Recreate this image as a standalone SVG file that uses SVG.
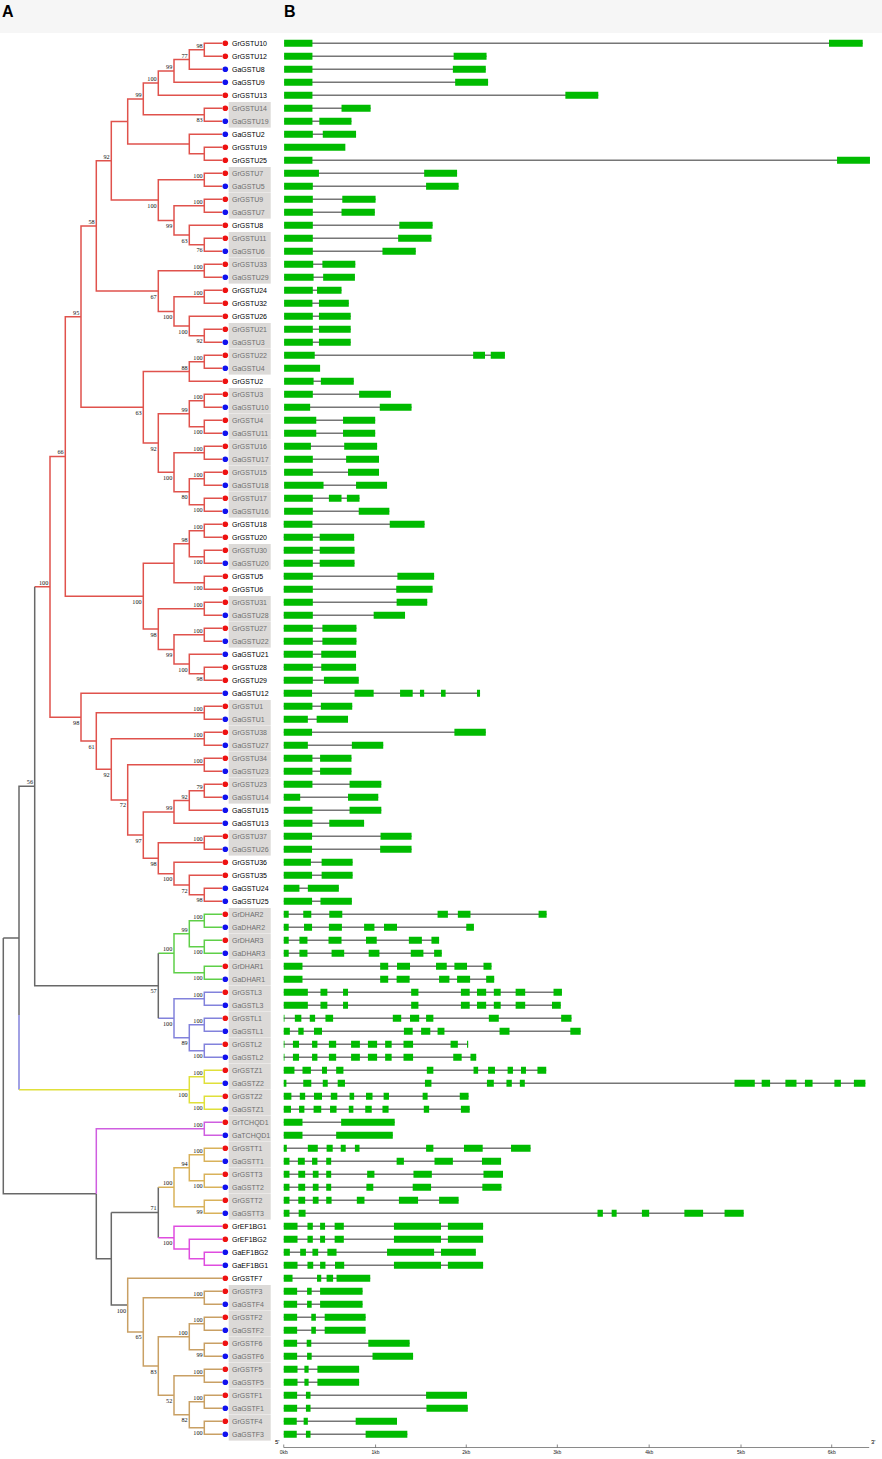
<svg xmlns="http://www.w3.org/2000/svg" width="882" height="1459" viewBox="0 0 882 1459">
<style>
.c path{fill:none;stroke-width:1.5}
.r{stroke:#e0524c}.gn{stroke:#5fcf48}.lv{stroke:#8282dc}.yl{stroke:#e0e03a}.pu{stroke:#cf5ee0}.gd{stroke:#d9b25a}.mg{stroke:#df4ddf}.tn{stroke:#c9a064}.gr{stroke:#686868}
.t{font-family:"Liberation Sans",Arial,sans-serif;font-size:7px;fill:#000}
.g{fill:#6e6e6e}
.rd{fill:#ee1111}.bl{fill:#1111ee}
.bs{font-family:"Liberation Serif","Times New Roman",serif;font-size:6.2px;text-anchor:end;fill:#111}
.bx{fill:#dcdad8}
.i{fill:none;stroke:#767676;stroke-width:1.5}
.e{fill:none;stroke:#00bb00;stroke-width:7}
.ax{fill:none;stroke:#555;stroke-width:1}
.kb{font-family:"Liberation Sans",Arial,sans-serif;font-size:5px;text-anchor:middle;fill:#222}
</style>
<rect x="0" y="0" width="882" height="33" fill="#f6f6f6"/>
<text x="2" y="17" font-family="Liberation Sans,Arial,sans-serif" font-size="16" font-weight="bold">A</text>
<text x="284" y="17" font-family="Liberation Sans,Arial,sans-serif" font-size="16" font-weight="bold">B</text>

<g id="boxes">
<rect class="bx" x="228.7" y="102" width="42" height="25.6"/>
<rect class="bx" x="228.7" y="167" width="42" height="25.6"/>
<rect class="bx" x="228.7" y="193" width="42" height="25.6"/>
<rect class="bx" x="228.7" y="232" width="42" height="25.6"/>
<rect class="bx" x="228.7" y="258" width="42" height="25.6"/>
<rect class="bx" x="228.7" y="323" width="42" height="25.6"/>
<rect class="bx" x="228.7" y="349" width="42" height="25.6"/>
<rect class="bx" x="228.7" y="388" width="42" height="25.6"/>
<rect class="bx" x="228.7" y="414" width="42" height="25.6"/>
<rect class="bx" x="228.7" y="440" width="42" height="25.6"/>
<rect class="bx" x="228.7" y="466" width="42" height="25.6"/>
<rect class="bx" x="228.7" y="492" width="42" height="25.6"/>
<rect class="bx" x="228.7" y="544" width="42" height="25.6"/>
<rect class="bx" x="228.7" y="596" width="42" height="25.6"/>
<rect class="bx" x="228.7" y="622" width="42" height="25.6"/>
<rect class="bx" x="228.7" y="700" width="42" height="25.6"/>
<rect class="bx" x="228.7" y="726" width="42" height="25.6"/>
<rect class="bx" x="228.7" y="752" width="42" height="25.6"/>
<rect class="bx" x="228.7" y="778" width="42" height="25.6"/>
<rect class="bx" x="228.7" y="830" width="42" height="25.6"/>
<rect class="bx" x="228.7" y="908" width="42" height="25.6"/>
<rect class="bx" x="228.7" y="934" width="42" height="25.6"/>
<rect class="bx" x="228.7" y="960" width="42" height="25.6"/>
<rect class="bx" x="228.7" y="986" width="42" height="25.6"/>
<rect class="bx" x="228.7" y="1012" width="42" height="25.6"/>
<rect class="bx" x="228.7" y="1038" width="42" height="25.6"/>
<rect class="bx" x="228.7" y="1064" width="42" height="25.6"/>
<rect class="bx" x="228.7" y="1090" width="42" height="25.6"/>
<rect class="bx" x="228.7" y="1116" width="42" height="25.6"/>
<rect class="bx" x="228.7" y="1142" width="42" height="25.6"/>
<rect class="bx" x="228.7" y="1168" width="42" height="25.6"/>
<rect class="bx" x="228.7" y="1194" width="42" height="25.6"/>
<rect class="bx" x="228.7" y="1285" width="42" height="25.6"/>
<rect class="bx" x="228.7" y="1311" width="42" height="25.6"/>
<rect class="bx" x="228.7" y="1337" width="42" height="25.6"/>
<rect class="bx" x="228.7" y="1363" width="42" height="25.6"/>
<rect class="bx" x="228.7" y="1389" width="42" height="25.6"/>
<rect class="bx" x="228.7" y="1415" width="42" height="25.6"/>
</g>

<g id="connectors" class="c">
<path class="r" d="M222 43.3H204.3V56.3H222M204.3 49.8H189.3V69.3H222M189.3 59.55H174V82.3H222M174 70.93H158.3V95.3H222M222 108.3H204.3V121.3H222M158.3 83.11H143.3V114.8H204.3M222 147.3H204.3V160.3H222M222 134.3H189.3V153.8H204.3M143.3 98.96H127.7V144.05H189.3M222 173.3H204.3V186.3H222M222 199.3H204.3V212.3H222M222 238.3H204.3V251.3H222M222 225.3H189.3V244.8H204.3M204.3 205.8H174V235.05H189.3M204.3 179.8H158.3V220.43H174M127.7 121.5H111.3V200.11H158.3M222 264.3H204.3V277.3H222M222 290.3H204.3V303.3H222M222 329.3H204.3V342.3H222M222 316.3H189.3V335.8H204.3M204.3 296.8H174V326.05H189.3M204.3 270.8H158.3V311.43H174M111.3 160.81H96.3V291.11H158.3M222 355.3H204.3V368.3H222M204.3 361.8H189.3V381.3H222M222 394.3H204.3V407.3H222M222 420.3H204.3V433.3H222M204.3 400.8H189.3V426.8H204.3M222 446.3H204.3V459.3H222M222 472.3H204.3V485.3H222M222 498.3H204.3V511.3H222M204.3 478.8H189.3V504.8H204.3M204.3 452.8H174V491.8H189.3M189.3 413.8H158.3V472.3H174M189.3 371.55H143.3V443.05H158.3M96.3 225.96H81V407.3H143.3M222 524.3H204.3V537.3H222M222 550.3H204.3V563.3H222M204.3 530.8H189.3V556.8H204.3M222 576.3H204.3V589.3H222M189.3 543.8H174V582.8H204.3M222 602.3H204.3V615.3H222M222 628.3H204.3V641.3H222M222 667.3H204.3V680.3H222M222 654.3H189.3V673.8H204.3M204.3 634.8H174V664.05H189.3M204.3 608.8H158.3V649.43H174M174 563.3H143.3V629.11H158.3M81 316.63H65.3V596.2H143.3M222 706.3H204.3V719.3H222M222 732.3H204.3V745.3H222M222 758.3H204.3V771.3H222M222 784.3H204.3V797.3H222M204.3 790.8H189.3V810.3H222M189.3 800.55H174V823.3H222M222 836.3H204.3V849.3H222M222 888.3H204.3V901.3H222M222 875.3H189.3V894.8H204.3M222 862.3H174V885.05H189.3M204.3 842.8H158.3V873.68H174M174 811.93H143.3V858.24H158.3M204.3 764.8H127.7V835.08H143.3M204.3 738.8H111.3V799.94H127.7M204.3 712.8H96.3V769.37H111.3M222 693.3H81V741.09H96.3M65.3 456.4H50V717.19H81M34.7 586.83H50"/>
<path class="gn" d="M222 914.3H204.3V927.3H222M222 940.3H204.3V953.3H222M204.3 920.8H189.3V946.8H204.3M222 966.3H204.3V979.3H222M189.3 933.8H174V972.8H204.3M158.3 953.3H174"/>
<path class="lv" d="M222 992.3H204.3V1005.3H222M222 1018.3H204.3V1031.3H222M222 1044.3H204.3V1057.3H222M204.3 1024.8H189.3V1050.8H204.3M204.3 998.8H174V1037.8H189.3M158.3 1018.3H174M19 1015V1089.8"/>
<path class="gr" d="M158.3 953.3V1018.3M34.7 586.83V985.8H158.3M34.7 786.32H19V1015M3.3 938.1H19M3.3 938.1V1193.8H96.3M96.3 1193.8V1258.8H111.3M111.3 1212.49H158.3M158.3 1187.3V1237.68M111.3 1212.49V1305.11H127.7"/>
<path class="yl" d="M222 1070.3H204.3V1083.3H222M222 1096.3H204.3V1109.3H222M204.3 1076.8H189.3V1102.8H204.3M19 1089.8H189.3"/>
<path class="pu" d="M222 1122.3H204.3V1135.3H222M204.3 1128.8H96.3V1193.8"/>
<path class="gd" d="M222 1148.3H204.3V1161.3H222M222 1174.3H204.3V1187.3H222M204.3 1154.8H189.3V1180.8H204.3M222 1200.3H204.3V1213.3H222M189.3 1167.8H174V1206.8H204.3M158.3 1187.3H174"/>
<path class="mg" d="M222 1252.3H204.3V1265.3H222M222 1239.3H189.3V1258.8H204.3M222 1226.3H174V1249.05H189.3M158.3 1237.68H174"/>
<path class="tn" d="M222 1291.3H204.3V1304.3H222M222 1317.3H204.3V1330.3H222M222 1343.3H204.3V1356.3H222M204.3 1323.8H189.3V1349.8H204.3M222 1369.3H204.3V1382.3H222M222 1395.3H204.3V1408.3H222M222 1421.3H204.3V1434.3H222M204.3 1401.8H189.3V1427.8H204.3M204.3 1375.8H174V1414.8H189.3M189.3 1336.8H158.3V1395.3H174M204.3 1297.8H143.3V1366.05H158.3M222 1278.3H127.7V1331.93H143.3"/>
</g>

<g id="bootstrap">
<text class="bs" x="202.6" y="47.8">98</text><text class="bs" x="187.6" y="57.55">77</text><text class="bs" x="172.3" y="68.93">99</text><text class="bs" x="156.6" y="81.11">100</text><text class="bs" x="202.6" y="122.3">83</text><text class="bs" x="141.6" y="96.96">99</text><text class="bs" x="109.6" y="158.81">92</text><text class="bs" x="202.6" y="177.8">100</text><text class="bs" x="156.6" y="207.61">100</text><text class="bs" x="202.6" y="203.8">100</text><text class="bs" x="172.3" y="227.93">99</text><text class="bs" x="187.6" y="242.55">63</text><text class="bs" x="202.6" y="252.3">76</text><text class="bs" x="94.6" y="223.96">58</text><text class="bs" x="202.6" y="268.8">100</text><text class="bs" x="156.6" y="298.61">67</text><text class="bs" x="202.6" y="294.8">100</text><text class="bs" x="172.3" y="318.93">100</text><text class="bs" x="187.6" y="333.55">100</text><text class="bs" x="202.6" y="343.3">92</text><text class="bs" x="79.3" y="314.63">95</text><text class="bs" x="202.6" y="359.8">100</text><text class="bs" x="187.6" y="369.55">88</text><text class="bs" x="141.6" y="414.8">63</text><text class="bs" x="202.6" y="398.8">100</text><text class="bs" x="187.6" y="411.8">99</text><text class="bs" x="202.6" y="434.3">100</text><text class="bs" x="156.6" y="450.55">92</text><text class="bs" x="202.6" y="450.8">100</text><text class="bs" x="172.3" y="479.8">100</text><text class="bs" x="202.6" y="476.8">100</text><text class="bs" x="187.6" y="499.3">80</text><text class="bs" x="202.6" y="512.3">100</text><text class="bs" x="63.6" y="454.4">66</text><text class="bs" x="202.6" y="528.8">100</text><text class="bs" x="187.6" y="541.8">98</text><text class="bs" x="202.6" y="564.3">100</text><text class="bs" x="202.6" y="590.3">100</text><text class="bs" x="141.6" y="603.7">100</text><text class="bs" x="202.6" y="606.8">100</text><text class="bs" x="156.6" y="636.61">98</text><text class="bs" x="202.6" y="632.8">100</text><text class="bs" x="172.3" y="656.93">99</text><text class="bs" x="187.6" y="671.55">100</text><text class="bs" x="202.6" y="681.3">98</text><text class="bs" x="48.3" y="584.83">100</text><text class="bs" x="79.3" y="724.69">98</text><text class="bs" x="202.6" y="710.8">100</text><text class="bs" x="94.6" y="748.59">61</text><text class="bs" x="202.6" y="736.8">100</text><text class="bs" x="109.6" y="776.87">92</text><text class="bs" x="202.6" y="762.8">100</text><text class="bs" x="126" y="807.44">72</text><text class="bs" x="172.3" y="809.93">99</text><text class="bs" x="187.6" y="798.55">92</text><text class="bs" x="202.6" y="788.8">79</text><text class="bs" x="141.6" y="842.58">97</text><text class="bs" x="202.6" y="840.8">100</text><text class="bs" x="156.6" y="865.74">98</text><text class="bs" x="172.3" y="881.18">100</text><text class="bs" x="187.6" y="892.55">72</text><text class="bs" x="202.6" y="902.3">98</text><text class="bs" x="33" y="784.32">56</text><text class="bs" x="202.6" y="918.8">100</text><text class="bs" x="187.6" y="931.8">99</text><text class="bs" x="202.6" y="954.3">100</text><text class="bs" x="172.3" y="951.3">100</text><text class="bs" x="202.6" y="980.3">100</text><text class="bs" x="156.6" y="993.3">57</text><text class="bs" x="202.6" y="996.8">100</text><text class="bs" x="172.3" y="1025.8">100</text><text class="bs" x="202.6" y="1022.8">100</text><text class="bs" x="187.6" y="1045.3">89</text><text class="bs" x="202.6" y="1058.3">100</text><text class="bs" x="202.6" y="1074.8">100</text><text class="bs" x="187.6" y="1097.3">100</text><text class="bs" x="202.6" y="1110.3">100</text><text class="bs" x="202.6" y="1126.8">100</text><text class="bs" x="202.6" y="1152.8">100</text><text class="bs" x="187.6" y="1165.8">94</text><text class="bs" x="202.6" y="1188.3">100</text><text class="bs" x="172.3" y="1185.3">100</text><text class="bs" x="202.6" y="1214.3">99</text><text class="bs" x="156.6" y="1210.49">71</text><text class="bs" x="172.3" y="1245.18">100</text><text class="bs" x="126" y="1312.61">100</text><text class="bs" x="202.6" y="1295.8">100</text><text class="bs" x="141.6" y="1339.43">65</text><text class="bs" x="187.6" y="1334.8">100</text><text class="bs" x="202.6" y="1321.8">100</text><text class="bs" x="202.6" y="1357.3">99</text><text class="bs" x="156.6" y="1373.55">83</text><text class="bs" x="202.6" y="1373.8">100</text><text class="bs" x="172.3" y="1402.8">52</text><text class="bs" x="187.6" y="1422.3">82</text><text class="bs" x="202.6" y="1399.8">100</text><text class="bs" x="202.6" y="1435.3">100</text>
</g>

<g id="leaves">
<g id="GrGSTU10" transform="translate(0,43.3)"><circle class="rd" cx="225.3" r="2.8"/><text class="t" x="232" y="2.5">GrGSTU10</text></g>
<g id="GrGSTU12" transform="translate(0,56.3)"><circle class="rd" cx="225.3" r="2.8"/><text class="t" x="232" y="2.5">GrGSTU12</text></g>
<g id="GaGSTU8" transform="translate(0,69.3)"><circle class="bl" cx="225.3" r="2.8"/><text class="t" x="232" y="2.5">GaGSTU8</text></g>
<g id="GaGSTU9" transform="translate(0,82.3)"><circle class="bl" cx="225.3" r="2.8"/><text class="t" x="232" y="2.5">GaGSTU9</text></g>
<g id="GrGSTU13" transform="translate(0,95.3)"><circle class="rd" cx="225.3" r="2.8"/><text class="t" x="232" y="2.5">GrGSTU13</text></g>
<g id="GrGSTU14" transform="translate(0,108.3)"><circle class="rd" cx="225.3" r="2.8"/><text class="t g" x="232" y="2.5">GrGSTU14</text></g>
<g id="GaGSTU19" transform="translate(0,121.3)"><circle class="bl" cx="225.3" r="2.8"/><text class="t g" x="232" y="2.5">GaGSTU19</text></g>
<g id="GaGSTU2" transform="translate(0,134.3)"><circle class="bl" cx="225.3" r="2.8"/><text class="t" x="232" y="2.5">GaGSTU2</text></g>
<g id="GrGSTU19" transform="translate(0,147.3)"><circle class="rd" cx="225.3" r="2.8"/><text class="t" x="232" y="2.5">GrGSTU19</text></g>
<g id="GrGSTU25" transform="translate(0,160.3)"><circle class="rd" cx="225.3" r="2.8"/><text class="t" x="232" y="2.5">GrGSTU25</text></g>
<g id="GrGSTU7" transform="translate(0,173.3)"><circle class="rd" cx="225.3" r="2.8"/><text class="t g" x="232" y="2.5">GrGSTU7</text></g>
<g id="GaGSTU5" transform="translate(0,186.3)"><circle class="bl" cx="225.3" r="2.8"/><text class="t g" x="232" y="2.5">GaGSTU5</text></g>
<g id="GrGSTU9" transform="translate(0,199.3)"><circle class="rd" cx="225.3" r="2.8"/><text class="t g" x="232" y="2.5">GrGSTU9</text></g>
<g id="GaGSTU7" transform="translate(0,212.3)"><circle class="bl" cx="225.3" r="2.8"/><text class="t g" x="232" y="2.5">GaGSTU7</text></g>
<g id="GrGSTU8" transform="translate(0,225.3)"><circle class="rd" cx="225.3" r="2.8"/><text class="t" x="232" y="2.5">GrGSTU8</text></g>
<g id="GrGSTU11" transform="translate(0,238.3)"><circle class="rd" cx="225.3" r="2.8"/><text class="t g" x="232" y="2.5">GrGSTU11</text></g>
<g id="GaGSTU6" transform="translate(0,251.3)"><circle class="bl" cx="225.3" r="2.8"/><text class="t g" x="232" y="2.5">GaGSTU6</text></g>
<g id="GrGSTU33" transform="translate(0,264.3)"><circle class="rd" cx="225.3" r="2.8"/><text class="t g" x="232" y="2.5">GrGSTU33</text></g>
<g id="GaGSTU29" transform="translate(0,277.3)"><circle class="bl" cx="225.3" r="2.8"/><text class="t g" x="232" y="2.5">GaGSTU29</text></g>
<g id="GrGSTU24" transform="translate(0,290.3)"><circle class="rd" cx="225.3" r="2.8"/><text class="t" x="232" y="2.5">GrGSTU24</text></g>
<g id="GrGSTU32" transform="translate(0,303.3)"><circle class="rd" cx="225.3" r="2.8"/><text class="t" x="232" y="2.5">GrGSTU32</text></g>
<g id="GrGSTU26" transform="translate(0,316.3)"><circle class="rd" cx="225.3" r="2.8"/><text class="t" x="232" y="2.5">GrGSTU26</text></g>
<g id="GrGSTU21" transform="translate(0,329.3)"><circle class="rd" cx="225.3" r="2.8"/><text class="t g" x="232" y="2.5">GrGSTU21</text></g>
<g id="GaGSTU3" transform="translate(0,342.3)"><circle class="bl" cx="225.3" r="2.8"/><text class="t g" x="232" y="2.5">GaGSTU3</text></g>
<g id="GrGSTU22" transform="translate(0,355.3)"><circle class="rd" cx="225.3" r="2.8"/><text class="t g" x="232" y="2.5">GrGSTU22</text></g>
<g id="GaGSTU4" transform="translate(0,368.3)"><circle class="bl" cx="225.3" r="2.8"/><text class="t g" x="232" y="2.5">GaGSTU4</text></g>
<g id="GrGSTU2" transform="translate(0,381.3)"><circle class="rd" cx="225.3" r="2.8"/><text class="t" x="232" y="2.5">GrGSTU2</text></g>
<g id="GrGSTU3" transform="translate(0,394.3)"><circle class="rd" cx="225.3" r="2.8"/><text class="t g" x="232" y="2.5">GrGSTU3</text></g>
<g id="GaGSTU10" transform="translate(0,407.3)"><circle class="bl" cx="225.3" r="2.8"/><text class="t g" x="232" y="2.5">GaGSTU10</text></g>
<g id="GrGSTU4" transform="translate(0,420.3)"><circle class="rd" cx="225.3" r="2.8"/><text class="t g" x="232" y="2.5">GrGSTU4</text></g>
<g id="GaGSTU11" transform="translate(0,433.3)"><circle class="bl" cx="225.3" r="2.8"/><text class="t g" x="232" y="2.5">GaGSTU11</text></g>
<g id="GrGSTU16" transform="translate(0,446.3)"><circle class="rd" cx="225.3" r="2.8"/><text class="t g" x="232" y="2.5">GrGSTU16</text></g>
<g id="GaGSTU17" transform="translate(0,459.3)"><circle class="bl" cx="225.3" r="2.8"/><text class="t g" x="232" y="2.5">GaGSTU17</text></g>
<g id="GrGSTU15" transform="translate(0,472.3)"><circle class="rd" cx="225.3" r="2.8"/><text class="t g" x="232" y="2.5">GrGSTU15</text></g>
<g id="GaGSTU18" transform="translate(0,485.3)"><circle class="bl" cx="225.3" r="2.8"/><text class="t g" x="232" y="2.5">GaGSTU18</text></g>
<g id="GrGSTU17" transform="translate(0,498.3)"><circle class="rd" cx="225.3" r="2.8"/><text class="t g" x="232" y="2.5">GrGSTU17</text></g>
<g id="GaGSTU16" transform="translate(0,511.3)"><circle class="bl" cx="225.3" r="2.8"/><text class="t g" x="232" y="2.5">GaGSTU16</text></g>
<g id="GrGSTU18" transform="translate(0,524.3)"><circle class="rd" cx="225.3" r="2.8"/><text class="t" x="232" y="2.5">GrGSTU18</text></g>
<g id="GrGSTU20" transform="translate(0,537.3)"><circle class="rd" cx="225.3" r="2.8"/><text class="t" x="232" y="2.5">GrGSTU20</text></g>
<g id="GrGSTU30" transform="translate(0,550.3)"><circle class="rd" cx="225.3" r="2.8"/><text class="t g" x="232" y="2.5">GrGSTU30</text></g>
<g id="GaGSTU20" transform="translate(0,563.3)"><circle class="bl" cx="225.3" r="2.8"/><text class="t g" x="232" y="2.5">GaGSTU20</text></g>
<g id="GrGSTU5" transform="translate(0,576.3)"><circle class="rd" cx="225.3" r="2.8"/><text class="t" x="232" y="2.5">GrGSTU5</text></g>
<g id="GrGSTU6" transform="translate(0,589.3)"><circle class="rd" cx="225.3" r="2.8"/><text class="t" x="232" y="2.5">GrGSTU6</text></g>
<g id="GrGSTU31" transform="translate(0,602.3)"><circle class="rd" cx="225.3" r="2.8"/><text class="t g" x="232" y="2.5">GrGSTU31</text></g>
<g id="GaGSTU28" transform="translate(0,615.3)"><circle class="bl" cx="225.3" r="2.8"/><text class="t g" x="232" y="2.5">GaGSTU28</text></g>
<g id="GrGSTU27" transform="translate(0,628.3)"><circle class="rd" cx="225.3" r="2.8"/><text class="t g" x="232" y="2.5">GrGSTU27</text></g>
<g id="GaGSTU22" transform="translate(0,641.3)"><circle class="bl" cx="225.3" r="2.8"/><text class="t g" x="232" y="2.5">GaGSTU22</text></g>
<g id="GaGSTU21" transform="translate(0,654.3)"><circle class="bl" cx="225.3" r="2.8"/><text class="t" x="232" y="2.5">GaGSTU21</text></g>
<g id="GrGSTU28" transform="translate(0,667.3)"><circle class="rd" cx="225.3" r="2.8"/><text class="t" x="232" y="2.5">GrGSTU28</text></g>
<g id="GrGSTU29" transform="translate(0,680.3)"><circle class="rd" cx="225.3" r="2.8"/><text class="t" x="232" y="2.5">GrGSTU29</text></g>
<g id="GaGSTU12" transform="translate(0,693.3)"><circle class="bl" cx="225.3" r="2.8"/><text class="t" x="232" y="2.5">GaGSTU12</text></g>
<g id="GrGSTU1" transform="translate(0,706.3)"><circle class="rd" cx="225.3" r="2.8"/><text class="t g" x="232" y="2.5">GrGSTU1</text></g>
<g id="GaGSTU1" transform="translate(0,719.3)"><circle class="bl" cx="225.3" r="2.8"/><text class="t g" x="232" y="2.5">GaGSTU1</text></g>
<g id="GrGSTU38" transform="translate(0,732.3)"><circle class="rd" cx="225.3" r="2.8"/><text class="t g" x="232" y="2.5">GrGSTU38</text></g>
<g id="GaGSTU27" transform="translate(0,745.3)"><circle class="bl" cx="225.3" r="2.8"/><text class="t g" x="232" y="2.5">GaGSTU27</text></g>
<g id="GrGSTU34" transform="translate(0,758.3)"><circle class="rd" cx="225.3" r="2.8"/><text class="t g" x="232" y="2.5">GrGSTU34</text></g>
<g id="GaGSTU23" transform="translate(0,771.3)"><circle class="bl" cx="225.3" r="2.8"/><text class="t g" x="232" y="2.5">GaGSTU23</text></g>
<g id="GrGSTU23" transform="translate(0,784.3)"><circle class="rd" cx="225.3" r="2.8"/><text class="t g" x="232" y="2.5">GrGSTU23</text></g>
<g id="GaGSTU14" transform="translate(0,797.3)"><circle class="bl" cx="225.3" r="2.8"/><text class="t g" x="232" y="2.5">GaGSTU14</text></g>
<g id="GaGSTU15" transform="translate(0,810.3)"><circle class="bl" cx="225.3" r="2.8"/><text class="t" x="232" y="2.5">GaGSTU15</text></g>
<g id="GaGSTU13" transform="translate(0,823.3)"><circle class="bl" cx="225.3" r="2.8"/><text class="t" x="232" y="2.5">GaGSTU13</text></g>
<g id="GrGSTU37" transform="translate(0,836.3)"><circle class="rd" cx="225.3" r="2.8"/><text class="t g" x="232" y="2.5">GrGSTU37</text></g>
<g id="GaGSTU26" transform="translate(0,849.3)"><circle class="bl" cx="225.3" r="2.8"/><text class="t g" x="232" y="2.5">GaGSTU26</text></g>
<g id="GrGSTU36" transform="translate(0,862.3)"><circle class="rd" cx="225.3" r="2.8"/><text class="t" x="232" y="2.5">GrGSTU36</text></g>
<g id="GrGSTU35" transform="translate(0,875.3)"><circle class="rd" cx="225.3" r="2.8"/><text class="t" x="232" y="2.5">GrGSTU35</text></g>
<g id="GaGSTU24" transform="translate(0,888.3)"><circle class="bl" cx="225.3" r="2.8"/><text class="t" x="232" y="2.5">GaGSTU24</text></g>
<g id="GaGSTU25" transform="translate(0,901.3)"><circle class="bl" cx="225.3" r="2.8"/><text class="t" x="232" y="2.5">GaGSTU25</text></g>
<g id="GrDHAR2" transform="translate(0,914.3)"><circle class="rd" cx="225.3" r="2.8"/><text class="t g" x="232" y="2.5">GrDHAR2</text></g>
<g id="GaDHAR2" transform="translate(0,927.3)"><circle class="bl" cx="225.3" r="2.8"/><text class="t g" x="232" y="2.5">GaDHAR2</text></g>
<g id="GrDHAR3" transform="translate(0,940.3)"><circle class="rd" cx="225.3" r="2.8"/><text class="t g" x="232" y="2.5">GrDHAR3</text></g>
<g id="GaDHAR3" transform="translate(0,953.3)"><circle class="bl" cx="225.3" r="2.8"/><text class="t g" x="232" y="2.5">GaDHAR3</text></g>
<g id="GrDHAR1" transform="translate(0,966.3)"><circle class="rd" cx="225.3" r="2.8"/><text class="t g" x="232" y="2.5">GrDHAR1</text></g>
<g id="GaDHAR1" transform="translate(0,979.3)"><circle class="bl" cx="225.3" r="2.8"/><text class="t g" x="232" y="2.5">GaDHAR1</text></g>
<g id="GrGSTL3" transform="translate(0,992.3)"><circle class="rd" cx="225.3" r="2.8"/><text class="t g" x="232" y="2.5">GrGSTL3</text></g>
<g id="GaGSTL3" transform="translate(0,1005.3)"><circle class="bl" cx="225.3" r="2.8"/><text class="t g" x="232" y="2.5">GaGSTL3</text></g>
<g id="GrGSTL1" transform="translate(0,1018.3)"><circle class="rd" cx="225.3" r="2.8"/><text class="t g" x="232" y="2.5">GrGSTL1</text></g>
<g id="GaGSTL1" transform="translate(0,1031.3)"><circle class="bl" cx="225.3" r="2.8"/><text class="t g" x="232" y="2.5">GaGSTL1</text></g>
<g id="GrGSTL2" transform="translate(0,1044.3)"><circle class="rd" cx="225.3" r="2.8"/><text class="t g" x="232" y="2.5">GrGSTL2</text></g>
<g id="GaGSTL2" transform="translate(0,1057.3)"><circle class="bl" cx="225.3" r="2.8"/><text class="t g" x="232" y="2.5">GaGSTL2</text></g>
<g id="GrGSTZ1" transform="translate(0,1070.3)"><circle class="rd" cx="225.3" r="2.8"/><text class="t g" x="232" y="2.5">GrGSTZ1</text></g>
<g id="GaGSTZ2" transform="translate(0,1083.3)"><circle class="bl" cx="225.3" r="2.8"/><text class="t g" x="232" y="2.5">GaGSTZ2</text></g>
<g id="GrGSTZ2" transform="translate(0,1096.3)"><circle class="rd" cx="225.3" r="2.8"/><text class="t g" x="232" y="2.5">GrGSTZ2</text></g>
<g id="GaGSTZ1" transform="translate(0,1109.3)"><circle class="bl" cx="225.3" r="2.8"/><text class="t g" x="232" y="2.5">GaGSTZ1</text></g>
<g id="GrTCHQD1" transform="translate(0,1122.3)"><circle class="rd" cx="225.3" r="2.8"/><text class="t g" x="232" y="2.5">GrTCHQD1</text></g>
<g id="GaTCHQD1" transform="translate(0,1135.3)"><circle class="bl" cx="225.3" r="2.8"/><text class="t g" x="232" y="2.5">GaTCHQD1</text></g>
<g id="GrGSTT1" transform="translate(0,1148.3)"><circle class="rd" cx="225.3" r="2.8"/><text class="t g" x="232" y="2.5">GrGSTT1</text></g>
<g id="GaGSTT1" transform="translate(0,1161.3)"><circle class="bl" cx="225.3" r="2.8"/><text class="t g" x="232" y="2.5">GaGSTT1</text></g>
<g id="GrGSTT3" transform="translate(0,1174.3)"><circle class="rd" cx="225.3" r="2.8"/><text class="t g" x="232" y="2.5">GrGSTT3</text></g>
<g id="GaGSTT2" transform="translate(0,1187.3)"><circle class="bl" cx="225.3" r="2.8"/><text class="t g" x="232" y="2.5">GaGSTT2</text></g>
<g id="GrGSTT2" transform="translate(0,1200.3)"><circle class="rd" cx="225.3" r="2.8"/><text class="t g" x="232" y="2.5">GrGSTT2</text></g>
<g id="GaGSTT3" transform="translate(0,1213.3)"><circle class="bl" cx="225.3" r="2.8"/><text class="t g" x="232" y="2.5">GaGSTT3</text></g>
<g id="GrEF1BG1" transform="translate(0,1226.3)"><circle class="rd" cx="225.3" r="2.8"/><text class="t" x="232" y="2.5">GrEF1BG1</text></g>
<g id="GrEF1BG2" transform="translate(0,1239.3)"><circle class="rd" cx="225.3" r="2.8"/><text class="t" x="232" y="2.5">GrEF1BG2</text></g>
<g id="GaEF1BG2" transform="translate(0,1252.3)"><circle class="bl" cx="225.3" r="2.8"/><text class="t" x="232" y="2.5">GaEF1BG2</text></g>
<g id="GaEF1BG1" transform="translate(0,1265.3)"><circle class="bl" cx="225.3" r="2.8"/><text class="t" x="232" y="2.5">GaEF1BG1</text></g>
<g id="GrGSTF7" transform="translate(0,1278.3)"><circle class="rd" cx="225.3" r="2.8"/><text class="t" x="232" y="2.5">GrGSTF7</text></g>
<g id="GrGSTF3" transform="translate(0,1291.3)"><circle class="rd" cx="225.3" r="2.8"/><text class="t g" x="232" y="2.5">GrGSTF3</text></g>
<g id="GaGSTF4" transform="translate(0,1304.3)"><circle class="bl" cx="225.3" r="2.8"/><text class="t g" x="232" y="2.5">GaGSTF4</text></g>
<g id="GrGSTF2" transform="translate(0,1317.3)"><circle class="rd" cx="225.3" r="2.8"/><text class="t g" x="232" y="2.5">GrGSTF2</text></g>
<g id="GaGSTF2" transform="translate(0,1330.3)"><circle class="bl" cx="225.3" r="2.8"/><text class="t g" x="232" y="2.5">GaGSTF2</text></g>
<g id="GrGSTF6" transform="translate(0,1343.3)"><circle class="rd" cx="225.3" r="2.8"/><text class="t g" x="232" y="2.5">GrGSTF6</text></g>
<g id="GaGSTF6" transform="translate(0,1356.3)"><circle class="bl" cx="225.3" r="2.8"/><text class="t g" x="232" y="2.5">GaGSTF6</text></g>
<g id="GrGSTF5" transform="translate(0,1369.3)"><circle class="rd" cx="225.3" r="2.8"/><text class="t g" x="232" y="2.5">GrGSTF5</text></g>
<g id="GaGSTF5" transform="translate(0,1382.3)"><circle class="bl" cx="225.3" r="2.8"/><text class="t g" x="232" y="2.5">GaGSTF5</text></g>
<g id="GrGSTF1" transform="translate(0,1395.3)"><circle class="rd" cx="225.3" r="2.8"/><text class="t g" x="232" y="2.5">GrGSTF1</text></g>
<g id="GaGSTF1" transform="translate(0,1408.3)"><circle class="bl" cx="225.3" r="2.8"/><text class="t g" x="232" y="2.5">GaGSTF1</text></g>
<g id="GrGSTF4" transform="translate(0,1421.3)"><circle class="rd" cx="225.3" r="2.8"/><text class="t g" x="232" y="2.5">GrGSTF4</text></g>
<g id="GaGSTF3" transform="translate(0,1434.3)"><circle class="bl" cx="225.3" r="2.8"/><text class="t g" x="232" y="2.5">GaGSTF3</text></g>
</g>

<g id="genes" transform="translate(278,0) scale(0.38265,1)">
<g transform="translate(0,43.3)"><path class="i" d="M16 0H1528"/><path class="e" d="M16 0H90M1440 0H1528"/></g>
<g transform="translate(0,56.3)"><path class="i" d="M16 0H545"/><path class="e" d="M16 0H90M459 0H545"/></g>
<g transform="translate(0,69.3)"><path class="i" d="M16 0H543"/><path class="e" d="M16 0H90M457 0H543"/></g>
<g transform="translate(0,82.3)"><path class="i" d="M16 0H549"/><path class="e" d="M16 0H90M463 0H549"/></g>
<g transform="translate(0,95.3)"><path class="i" d="M16 0H837"/><path class="e" d="M16 0H90M751 0H837"/></g>
<g transform="translate(0,108.3)"><path class="i" d="M16 0H242"/><path class="e" d="M16 0H90M166 0H242"/></g>
<g transform="translate(0,121.3)"><path class="i" d="M16 0H192"/><path class="e" d="M16 0H90M108 0H192"/></g>
<g transform="translate(0,134.3)"><path class="i" d="M16 0H204"/><path class="e" d="M16 0H91M117 0H204"/></g>
<g transform="translate(0,147.3)"><path class="e" d="M16 0H176"/></g>
<g transform="translate(0,160.3)"><path class="i" d="M16 0H1547"/><path class="e" d="M16 0H90M1461 0H1547"/></g>
<g transform="translate(0,173.3)"><path class="i" d="M16 0H468"/><path class="e" d="M16 0H107M382 0H468"/></g>
<g transform="translate(0,186.3)"><path class="i" d="M16 0H472"/><path class="e" d="M16 0H91M387 0H472"/></g>
<g transform="translate(0,199.3)"><path class="i" d="M16 0H255"/><path class="e" d="M16 0H91M168 0H255"/></g>
<g transform="translate(0,212.3)"><path class="i" d="M16 0H253"/><path class="e" d="M16 0H91M166 0H253"/></g>
<g transform="translate(0,225.3)"><path class="i" d="M16 0H404"/><path class="e" d="M16 0H91M317 0H404"/></g>
<g transform="translate(0,238.3)"><path class="i" d="M16 0H401"/><path class="e" d="M16 0H91M314 0H401"/></g>
<g transform="translate(0,251.3)"><path class="i" d="M16 0H360"/><path class="e" d="M16 0H91M273 0H360"/></g>
<g transform="translate(0,264.3)"><path class="i" d="M16 0H202"/><path class="e" d="M16 0H92M116 0H202"/></g>
<g transform="translate(0,277.3)"><path class="i" d="M16 0H201"/><path class="e" d="M16 0H93M118 0H201"/></g>
<g transform="translate(0,290.3)"><path class="i" d="M16 0H166"/><path class="e" d="M16 0H91M102 0H166"/></g>
<g transform="translate(0,303.3)"><path class="i" d="M16 0H185"/><path class="e" d="M16 0H90M107 0H185"/></g>
<g transform="translate(0,316.3)"><path class="i" d="M16 0H190"/><path class="e" d="M16 0H91M107 0H190"/></g>
<g transform="translate(0,329.3)"><path class="i" d="M16 0H190"/><path class="e" d="M16 0H91M107 0H190"/></g>
<g transform="translate(0,342.3)"><path class="i" d="M16 0H190"/><path class="e" d="M16 0H91M107 0H190"/></g>
<g transform="translate(0,355.3)"><path class="i" d="M16 0H593"/><path class="e" d="M16 0H96M510 0H541M556 0H593"/></g>
<g transform="translate(0,368.3)"><path class="e" d="M16 0H110"/></g>
<g transform="translate(0,381.3)"><path class="i" d="M16 0H198"/><path class="e" d="M16 0H93M112 0H198"/></g>
<g transform="translate(0,394.3)"><path class="i" d="M16 0H295"/><path class="e" d="M16 0H91M212 0H295"/></g>
<g transform="translate(0,407.3)"><path class="i" d="M16 0H349"/><path class="e" d="M16 0H84M266 0H349"/></g>
<g transform="translate(0,420.3)"><path class="i" d="M16 0H254"/><path class="e" d="M16 0H100M170 0H254"/></g>
<g transform="translate(0,433.3)"><path class="i" d="M16 0H254"/><path class="e" d="M16 0H100M170 0H254"/></g>
<g transform="translate(0,446.3)"><path class="i" d="M16 0H259"/><path class="e" d="M16 0H86M173 0H259"/></g>
<g transform="translate(0,459.3)"><path class="i" d="M16 0H264"/><path class="e" d="M16 0H91M178 0H264"/></g>
<g transform="translate(0,472.3)"><path class="i" d="M16 0H264"/><path class="e" d="M16 0H91M183 0H264"/></g>
<g transform="translate(0,485.3)"><path class="i" d="M16 0H285"/><path class="e" d="M16 0H119M204 0H285"/></g>
<g transform="translate(0,498.3)"><path class="i" d="M16 0H213"/><path class="e" d="M16 0H91M133 0H166M180 0H213"/></g>
<g transform="translate(0,511.3)"><path class="i" d="M16 0H291"/><path class="e" d="M16 0H91M211 0H291"/></g>
<g transform="translate(0,524.3)"><path class="i" d="M15 0H383"/><path class="e" d="M15 0H90M292 0H383"/></g>
<g transform="translate(0,537.3)"><path class="i" d="M15 0H199"/><path class="e" d="M15 0H91M109 0H199"/></g>
<g transform="translate(0,550.3)"><path class="i" d="M15 0H200"/><path class="e" d="M15 0H91M109 0H200"/></g>
<g transform="translate(0,563.3)"><path class="i" d="M15 0H200"/><path class="e" d="M15 0H91M109 0H200"/></g>
<g transform="translate(0,576.3)"><path class="i" d="M15 0H408"/><path class="e" d="M15 0H91M312 0H408"/></g>
<g transform="translate(0,589.3)"><path class="i" d="M15 0H404"/><path class="e" d="M15 0H91M309 0H404"/></g>
<g transform="translate(0,602.3)"><path class="i" d="M15 0H390"/><path class="e" d="M15 0H91M310 0H390"/></g>
<g transform="translate(0,615.3)"><path class="i" d="M15 0H332"/><path class="e" d="M15 0H91M250 0H332"/></g>
<g transform="translate(0,628.3)"><path class="i" d="M15 0H205"/><path class="e" d="M15 0H91M116 0H205"/></g>
<g transform="translate(0,641.3)"><path class="i" d="M15 0H205"/><path class="e" d="M15 0H91M116 0H205"/></g>
<g transform="translate(0,654.3)"><path class="i" d="M15 0H204"/><path class="e" d="M15 0H91M113 0H204"/></g>
<g transform="translate(0,667.3)"><path class="i" d="M15 0H204"/><path class="e" d="M15 0H91M113 0H204"/></g>
<g transform="translate(0,680.3)"><path class="i" d="M15 0H211"/><path class="e" d="M15 0H91M120 0H211"/></g>
<g transform="translate(0,693.3)"><path class="i" d="M15 0H528"/><path class="e" d="M15 0H89M200 0H250M319 0H352M371 0H382M426 0H438M520 0H528"/></g>
<g transform="translate(0,706.3)"><path class="i" d="M15 0H194"/><path class="e" d="M15 0H90M112 0H194"/></g>
<g transform="translate(0,719.3)"><path class="i" d="M15 0H183"/><path class="e" d="M15 0H78M101 0H183"/></g>
<g transform="translate(0,732.3)"><path class="i" d="M15 0H543"/><path class="e" d="M15 0H89M461 0H543"/></g>
<g transform="translate(0,745.3)"><path class="i" d="M15 0H275"/><path class="e" d="M15 0H78M193 0H275"/></g>
<g transform="translate(0,758.3)"><path class="i" d="M15 0H192"/><path class="e" d="M15 0H90M110 0H192"/></g>
<g transform="translate(0,771.3)"><path class="i" d="M15 0H192"/><path class="e" d="M15 0H90M110 0H192"/></g>
<g transform="translate(0,784.3)"><path class="i" d="M15 0H270"/><path class="e" d="M15 0H90M187 0H270"/></g>
<g transform="translate(0,797.3)"><path class="i" d="M15 0H262"/><path class="e" d="M15 0H58M183 0H262"/></g>
<g transform="translate(0,810.3)"><path class="i" d="M15 0H270"/><path class="e" d="M15 0H90M187 0H270"/></g>
<g transform="translate(0,823.3)"><path class="i" d="M15 0H225"/><path class="e" d="M15 0H90M134 0H225"/></g>
<g transform="translate(0,836.3)"><path class="i" d="M15 0H349"/><path class="e" d="M15 0H89M268 0H349"/></g>
<g transform="translate(0,849.3)"><path class="i" d="M15 0H349"/><path class="e" d="M15 0H89M267 0H349"/></g>
<g transform="translate(0,862.3)"><path class="i" d="M15 0H195"/><path class="e" d="M15 0H86M114 0H195"/></g>
<g transform="translate(0,875.3)"><path class="i" d="M15 0H195"/><path class="e" d="M15 0H89M114 0H195"/></g>
<g transform="translate(0,888.3)"><path class="i" d="M15 0H159"/><path class="e" d="M15 0H56M78 0H159"/></g>
<g transform="translate(0,901.3)"><path class="i" d="M15 0H193"/><path class="e" d="M15 0H89M111 0H193"/></g>
<g transform="translate(0,914.3)"><path class="i" d="M15 0H702"/><path class="e" d="M15 0H28M66 0H87M134 0H168M417 0H444M470 0H503M681 0H702"/></g>
<g transform="translate(0,927.3)"><path class="i" d="M15 0H512"/><path class="e" d="M15 0H28M68 0H89M133 0H167M225 0H252M277 0H311M492 0H512"/></g>
<g transform="translate(0,940.3)"><path class="i" d="M15 0H421"/><path class="e" d="M15 0H28M56 0H77M132 0H166M230 0H258M342 0H376M401 0H421"/></g>
<g transform="translate(0,953.3)"><path class="i" d="M15 0H428"/><path class="e" d="M15 0H28M56 0H77M140 0H173M237 0H265M347 0H380M408 0H428"/></g>
<g transform="translate(0,966.3)"><path class="i" d="M15 0H558"/><path class="e" d="M15 0H64M267 0H288M311 0H345M413 0H441M461 0H494M537 0H558"/></g>
<g transform="translate(0,979.3)"><path class="i" d="M15 0H565"/><path class="e" d="M15 0H64M267 0H288M310 0H344M421 0H448M468 0H502M544 0H565"/></g>
<g transform="translate(0,992.3)"><path class="i" d="M15 0H742"/><path class="e" d="M15 0H78M111 0H129M170 0H183M348 0H367M478 0H501M520 0H544M564 0H582M621 0H646M720 0H742"/></g>
<g transform="translate(0,1005.3)"><path class="i" d="M15 0H739"/><path class="e" d="M15 0H78M111 0H129M170 0H183M348 0H367M478 0H501M520 0H544M564 0H582M621 0H646M716 0H739"/></g>
<g transform="translate(0,1018.3)"><path class="i" d="M15 0H767"/><path class="e" d="M15 0H17M44 0H61M83 0H97M124 0H144M300 0H322M345 0H369M387 0H406M551 0H577M740 0H767"/></g>
<g transform="translate(0,1031.3)"><path class="i" d="M15 0H791"/><path class="e" d="M15 0H31M53 0H67M94 0H115M329 0H352M374 0H398M417 0H435M579 0H605M764 0H791"/></g>
<g transform="translate(0,1044.3)"><path class="i" d="M15 0H497"/><path class="e" d="M15 0H17M39 0H55M89 0H103M133 0H152M191 0H214M235 0H259M280 0H297M328 0H353M451 0H470M494 0H497"/></g>
<g transform="translate(0,1057.3)"><path class="i" d="M15 0H518"/><path class="e" d="M15 0H17M39 0H55M89 0H103M133 0H152M191 0H214M235 0H259M280 0H297M328 0H353M458 0H480M503 0H518"/></g>
<g transform="translate(0,1070.3)"><path class="i" d="M15 0H701"/><path class="e" d="M15 0H43M64 0H86M115 0H128M152 0H171M389 0H406M511 0H523M549 0H567M600 0H614M635 0H648M678 0H701"/></g>
<g transform="translate(0,1083.3)"><path class="i" d="M15 0H1535"/><path class="e" d="M15 0H22M66 0H87M117 0H130M156 0H175M384 0H401M546 0H564M597 0H611M632 0H645M1193 0H1246M1264 0H1286M1326 0H1355M1377 0H1397M1454 0H1471M1505 0H1535"/></g>
<g transform="translate(0,1096.3)"><path class="i" d="M15 0H498"/><path class="e" d="M15 0H35M57 0H71M94 0H115M138 0H155M187 0H199M230 0H247M276 0H290M378 0H391M475 0H498"/></g>
<g transform="translate(0,1109.3)"><path class="i" d="M15 0H501"/><path class="e" d="M15 0H34M55 0H69M93 0H113M136 0H153M185 0H197M228 0H245M273 0H289M381 0H395M478 0H501"/></g>
<g transform="translate(0,1122.3)"><path class="i" d="M15 0H305"/><path class="e" d="M15 0H64M165 0H305"/></g>
<g transform="translate(0,1135.3)"><path class="i" d="M15 0H300"/><path class="e" d="M15 0H64M152 0H300"/></g>
<g transform="translate(0,1148.3)"><path class="i" d="M15 0H660"/><path class="e" d="M15 0H23M78 0H104M127 0H143M164 0H177M201 0H213M387 0H406M486 0H535M609 0H660"/></g>
<g transform="translate(0,1161.3)"><path class="i" d="M15 0H583"/><path class="e" d="M15 0H30M52 0H70M89 0H103M126 0H139M310 0H329M409 0H457M533 0H583"/></g>
<g transform="translate(0,1174.3)"><path class="i" d="M15 0H588"/><path class="e" d="M15 0H30M53 0H71M91 0H106M126 0H139M233 0H252M354 0H402M537 0H588"/></g>
<g transform="translate(0,1187.3)"><path class="i" d="M15 0H584"/><path class="e" d="M15 0H30M53 0H71M91 0H106M126 0H139M231 0H249M352 0H400M534 0H584"/></g>
<g transform="translate(0,1200.3)"><path class="i" d="M15 0H472"/><path class="e" d="M15 0H30M53 0H71M91 0H106M126 0H140M206 0H226M316 0H366M421 0H472"/></g>
<g transform="translate(0,1213.3)"><path class="i" d="M15 0H1217"/><path class="e" d="M15 0H30M54 0H72M835 0H849M872 0H885M951 0H970M1062 0H1111M1167 0H1217"/></g>
<g transform="translate(0,1226.3)"><path class="i" d="M15 0H536"/><path class="e" d="M15 0H51M77 0H91M110 0H123M148 0H172M303 0H426M444 0H536"/></g>
<g transform="translate(0,1239.3)"><path class="i" d="M15 0H536"/><path class="e" d="M15 0H51M77 0H91M110 0H123M148 0H172M303 0H426M444 0H536"/></g>
<g transform="translate(0,1252.3)"><path class="i" d="M15 0H517"/><path class="e" d="M15 0H31M58 0H73M90 0H105M129 0H153M285 0H408M426 0H517"/></g>
<g transform="translate(0,1265.3)"><path class="i" d="M15 0H536"/><path class="e" d="M15 0H51M77 0H92M110 0H124M149 0H173M303 0H426M444 0H536"/></g>
<g transform="translate(0,1278.3)"><path class="i" d="M15 0H241"/><path class="e" d="M15 0H38M102 0H113M127 0H144M153 0H241"/></g>
<g transform="translate(0,1291.3)"><path class="i" d="M15 0H221"/><path class="e" d="M15 0H50M76 0H88M110 0H221"/></g>
<g transform="translate(0,1304.3)"><path class="i" d="M15 0H221"/><path class="e" d="M15 0H50M76 0H88M110 0H221"/></g>
<g transform="translate(0,1317.3)"><path class="i" d="M15 0H229"/><path class="e" d="M15 0H50M87 0H99M122 0H229"/></g>
<g transform="translate(0,1330.3)"><path class="i" d="M15 0H229"/><path class="e" d="M15 0H50M87 0H99M122 0H229"/></g>
<g transform="translate(0,1343.3)"><path class="i" d="M15 0H344"/><path class="e" d="M15 0H50M75 0H87M236 0H344"/></g>
<g transform="translate(0,1356.3)"><path class="i" d="M15 0H353"/><path class="e" d="M15 0H50M76 0H88M247 0H353"/></g>
<g transform="translate(0,1369.3)"><path class="i" d="M15 0H212"/><path class="e" d="M15 0H51M69 0H80M103 0H212"/></g>
<g transform="translate(0,1382.3)"><path class="i" d="M15 0H212"/><path class="e" d="M15 0H51M69 0H80M103 0H212"/></g>
<g transform="translate(0,1395.3)"><path class="i" d="M15 0H494"/><path class="e" d="M15 0H50M73 0H85M387 0H494"/></g>
<g transform="translate(0,1408.3)"><path class="i" d="M15 0H496"/><path class="e" d="M15 0H50M73 0H85M388 0H496"/></g>
<g transform="translate(0,1421.3)"><path class="i" d="M15 0H311"/><path class="e" d="M15 0H49M67 0H78M203 0H311"/></g>
<g transform="translate(0,1434.3)"><path class="i" d="M15 0H338"/><path class="e" d="M15 0H49M73 0H85M229 0H338"/></g>
<path class="ax" d="M15 1447.5H1545M15 1444.5V1447.5M255 1444.5V1447.5M492 1444.5V1447.5M730 1444.5V1447.5M970 1444.5V1447.5M1210 1444.5V1447.5M1447 1444.5V1447.5"/>
</g>
<g id="axis-labels">
<text class="kb" x="283.7" y="1454">0kb</text>
<text class="kb" x="375.6" y="1454">1kb</text>
<text class="kb" x="466.3" y="1454">2kb</text>
<text class="kb" x="557.3" y="1454">3kb</text>
<text class="kb" x="649.2" y="1454">4kb</text>
<text class="kb" x="741" y="1454">5kb</text>
<text class="kb" x="831.7" y="1454">6kb</text>
<text x="275" y="1444" font-family="Liberation Sans,Arial,sans-serif" font-size="6">5'</text>
<text x="871" y="1444" font-family="Liberation Sans,Arial,sans-serif" font-size="6">3'</text>
</g>
</svg>
